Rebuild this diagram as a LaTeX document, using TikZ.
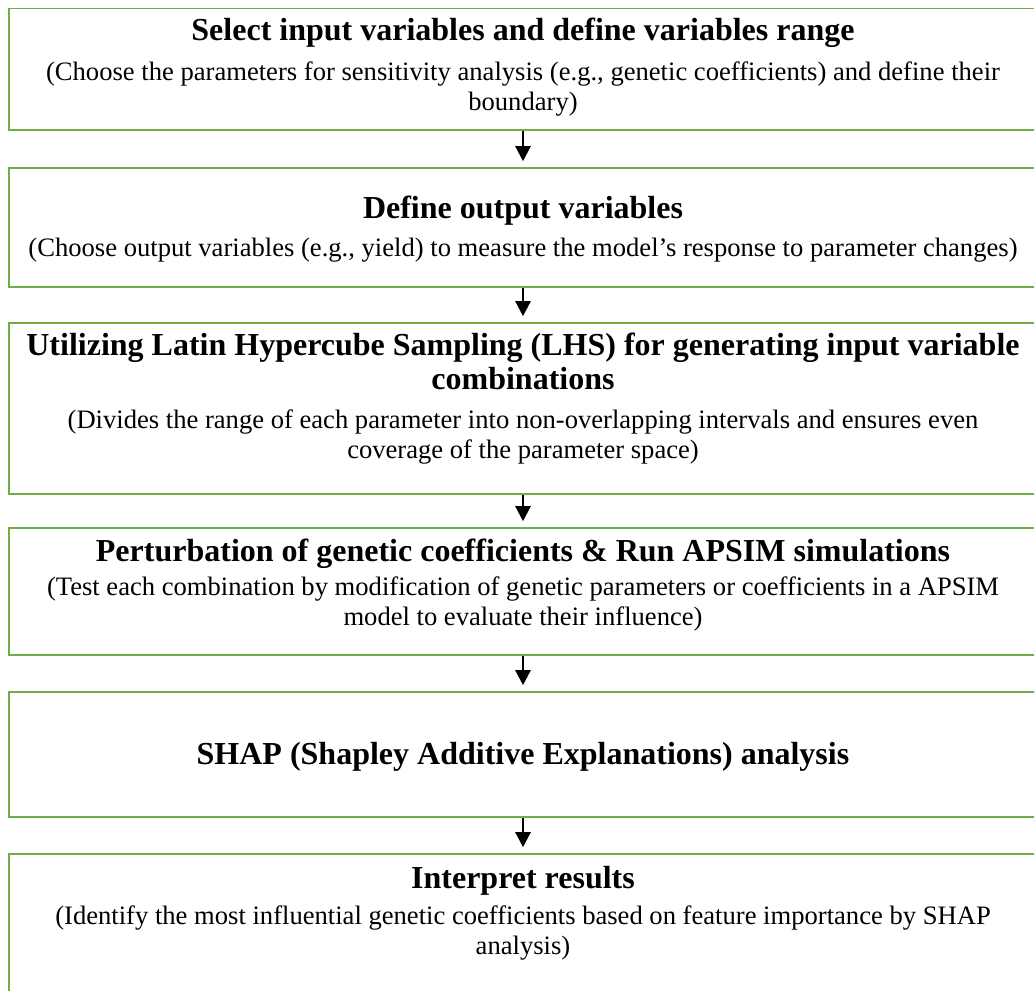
\documentclass[tikz,border=0pt]{standalone}
\usepackage{fontspec}
\setmainfont{Liberation Serif}
\usetikzlibrary{arrows.meta,calc}
\definecolor{boxgreen}{RGB}{112,173,71}
\tikzset{
  box/.style={draw=boxgreen, line width=1.6pt, rectangle, inner sep=0pt, minimum width=1028pt},
  ttl/.style={font=\fontsize{32}{34}\selectfont\bfseries, align=center, inner sep=0pt, anchor=base},
  sub/.style={font=\fontsize{26.6}{30}\selectfont, align=center, inner sep=0pt, anchor=base},
  arr/.style={line width=2.4pt, -{Triangle[width=15pt,length=15pt]}, shorten >=6pt}
}
\begin{document}
\begin{tikzpicture}[x=1pt,y=-1pt]
\useasboundingbox (0,0) rectangle (1034,991);
\clip (0,0) rectangle (1034,991);
% boxes
\node[box, minimum height=121.5pt] (b1) at (523,69.25) {};
\node[box, minimum height=119pt] (b2) at (523,227.5) {};
\node[box, minimum height=171pt] (b3) at (523,408.5) {};
\node[box, minimum height=127pt] (b4) at (523,591.5) {};
\node[box, minimum height=125pt] (b5) at (523,754.5) {};
\node[box, minimum height=156pt] (b6) at (523,932) {};
% texts (base anchor = baseline of the last line)
\node[ttl] (t1) at ($(b1.north)+(0,33)$) {Select input variables and define variables range};
\node[sub] (s1) at ($(b1.north)+(0,103)$) {(Choose the parameters for sensitivity analysis (e.g., genetic coefficients) and define their\\boundary)};
\node[ttl] (t2) at ($(b2.north)+(0,51)$) {Define output variables};
\node[sub] (s2) at ($(b2.north)+(0,89)$) {(Choose output variables (e.g., yield) to measure the model's response to parameter changes)};
\node[ttl] (t3) at ($(b3.north)+(0,67)$) {Utilizing Latin Hypercube Sampling (LHS) for generating input variable\\combinations};
\node[sub] (s3) at ($(b3.north)+(0,136)$) {(Divides the range of each parameter into non-overlapping intervals and ensures even\\coverage of the parameter space)};
\node[ttl] (t4) at ($(b4.north)+(0,34)$) {Perturbation of genetic coefficients \& Run APSIM simulations};
\node[sub] (s4) at ($(b4.north)+(0,98)$) {(Test each combination by modification of genetic parameters or coefficients in a APSIM\\model to evaluate their influence)};
\node[ttl] (t5) at ($(b5.north)+(0,73)$) {SHAP (Shapley Additive Explanations) analysis};
\node[ttl] (t6) at ($(b6.north)+(0,35)$) {Interpret results};
\node[sub] (s6) at ($(b6.north)+(0,101)$) {(Identify the most influential genetic coefficients based on feature importance by SHAP\\analysis)};
% arrows
\draw[arr] (b1.south) -- (b2.north);
\draw[arr] (b2.south) -- (b3.north);
\draw[arr] (b3.south) -- (b4.north);
\draw[arr] (b4.south) -- (b5.north);
\draw[arr] (b5.south) -- (b6.north);
\end{tikzpicture}
\end{document}
